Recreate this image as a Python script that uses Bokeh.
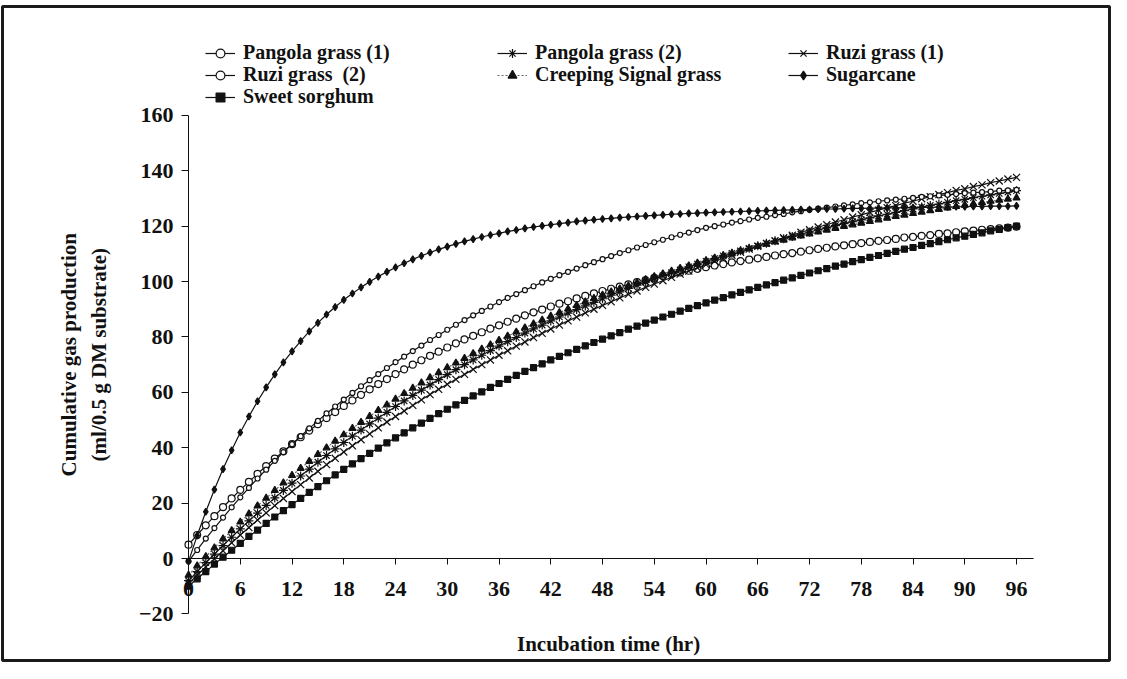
from bokeh.plotting import figure
from bokeh.models import Range1d, FixedTicker, Legend, LegendItem, Label
from bokeh.embed import file_html
from bokeh.resources import INLINE

hours = list(range(97))

pangola1 = [
    5.0, 8.5, 12.0, 15.3, 18.6, 21.7, 24.8, 27.7, 30.6, 33.4,
    36.1, 38.7, 41.3, 43.8, 46.2, 48.5, 50.7, 52.9, 55.1, 57.1,
    59.1, 61.1, 63.0, 64.8, 66.6, 68.3, 70.0, 71.6, 73.2, 74.7,
    76.2, 77.7, 79.1, 80.4, 81.7, 83.0, 84.2, 85.5, 86.6, 87.8,
    88.9, 89.9, 91.0, 92.0, 92.9, 93.9, 94.8, 95.7, 96.6, 97.4,
    98.2, 99.0, 99.8, 100.5, 101.3, 102.0, 102.6, 103.3, 103.9, 104.6,
    105.2, 105.8, 106.3, 106.9, 107.4, 107.9, 108.4, 108.9, 109.4, 109.9,
    110.3, 110.8, 111.3, 111.8, 112.2, 112.7, 113.1, 113.5, 113.9, 114.3,
    114.7, 115.0, 115.4, 115.9, 116.1, 116.5, 116.8, 117.2, 117.4, 117.8,
    118.1, 118.4, 118.7, 118.9, 119.2, 119.5, 119.8,
]
pangola2 = [
    -8.0, -4.7, -1.5, 1.6, 4.7, 7.7, 10.7, 13.6, 16.4, 19.2,
    21.9, 24.6, 27.2, 29.8, 32.3, 34.8, 37.2, 39.6, 41.9, 44.2,
    46.4, 48.6, 50.7, 52.8, 54.9, 56.9, 58.9, 60.8, 62.7, 64.6,
    66.4, 68.2, 70.0, 71.7, 73.4, 75.1, 76.7, 78.3, 79.8, 81.4,
    82.9, 84.3, 85.8, 87.2, 88.6, 89.9, 91.2, 92.5, 93.8, 95.1,
    96.3, 97.5, 98.7, 99.8, 101.0, 102.1, 103.2, 104.2, 105.3, 106.3,
    107.3, 108.3, 109.3, 110.2, 111.1, 112.0, 112.9, 113.8, 114.7, 115.5,
    116.3, 117.1, 117.9, 118.7, 119.4, 120.2, 120.9, 121.6, 122.3, 123.0,
    123.7, 124.3, 125.0, 125.6, 126.2, 126.9, 127.5, 128.0, 128.6, 129.2,
    129.7, 130.3, 130.8, 131.3, 131.8, 132.3, 132.8,
]
ruzi1 = [
    -9.0, -6.0, -3.0, -0.1, 2.8, 5.7, 8.5, 11.2, 13.9, 16.5,
    19.1, 21.7, 24.2, 26.7, 29.1, 31.5, 33.9, 36.2, 38.5, 40.7,
    42.9, 45.0, 47.2, 49.3, 51.3, 53.3, 55.3, 57.3, 59.2, 61.1,
    62.9, 64.7, 66.5, 68.3, 70.0, 71.7, 73.4, 75.0, 76.7, 78.2,
    79.8, 81.3, 82.9, 84.3, 85.8, 87.2, 88.7, 90.0, 91.4, 92.7,
    94.1, 95.4, 96.6, 97.9, 99.1, 100.3, 101.5, 102.7, 103.8, 105.0,
    106.1, 107.3, 108.4, 109.5, 110.6, 111.7, 112.7, 113.8, 114.7, 115.8,
    116.7, 117.8, 118.7, 119.7, 120.5, 121.5, 122.3, 123.3, 124.1, 125.0,
    125.8, 126.7, 127.4, 128.3, 129.0, 129.9, 130.6, 131.4, 132.1, 132.9,
    133.5, 134.3, 134.9, 135.7, 136.3, 137.0, 137.6,
]
ruzi2 = [
    -1.0, 3.1, 7.2, 11.0, 14.8, 18.5, 22.1, 25.5, 28.9, 32.1,
    35.3, 38.4, 41.3, 44.2, 47.0, 49.7, 52.4, 54.9, 57.4, 59.8,
    62.2, 64.4, 66.6, 68.8, 70.9, 72.9, 74.9, 76.9, 78.9, 80.7,
    82.6, 84.4, 86.1, 87.8, 89.4, 91.0, 92.6, 94.1, 95.5, 96.9,
    98.3, 99.7, 101.0, 102.3, 103.5, 104.7, 105.9, 107.0, 108.1, 109.2,
    110.3, 111.3, 112.3, 113.2, 114.2, 115.1, 116.0, 116.9, 117.7, 118.6,
    119.4, 120.0, 120.6, 121.3, 121.8, 122.4, 123.0, 123.4, 124.0, 124.4,
    125.0, 125.4, 125.9, 126.3, 126.7, 127.1, 127.5, 127.9, 128.3, 128.6,
    129.0, 129.3, 129.6, 129.9, 130.2, 130.6, 130.8, 131.1, 131.3, 131.6,
    131.9, 132.1, 132.3, 132.5, 132.8, 132.9, 133.1,
]
creeping_signal = [
    -6.0, -2.6, 0.7, 3.9, 7.1, 10.1, 13.2, 16.1, 19.0, 21.8,
    24.6, 27.3, 30.0, 32.6, 35.1, 37.6, 40.0, 42.4, 44.7, 47.0,
    49.2, 51.3, 53.5, 55.5, 57.6, 59.6, 61.5, 63.4, 65.3, 67.1,
    68.9, 70.6, 72.3, 74.0, 75.6, 77.2, 78.8, 80.3, 81.8, 83.3,
    84.7, 86.1, 87.5, 88.8, 90.1, 91.4, 92.7, 93.9, 95.1, 96.3,
    97.4, 98.5, 99.6, 100.7, 101.8, 102.8, 103.8, 104.8, 105.7, 106.7,
    107.6, 108.5, 109.4, 110.2, 111.1, 111.9, 112.7, 113.5, 114.3, 115.0,
    115.8, 116.5, 117.2, 117.9, 118.6, 119.2, 119.9, 120.5, 121.1, 121.7,
    122.3, 122.9, 123.5, 124.0, 124.6, 125.1, 125.6, 126.1, 126.6, 127.1,
    127.6, 128.1, 128.5, 129.0, 129.4, 129.8, 130.2,
]
sugarcane = [
    -1.0, 8.3, 16.9, 24.9, 32.3, 39.1, 45.5, 51.3, 56.8, 61.8,
    66.5, 70.8, 74.8, 78.5, 82.0, 85.1, 88.1, 90.8, 93.4, 95.7,
    97.9, 99.9, 101.8, 103.5, 105.1, 106.6, 108.0, 109.3, 110.5, 111.6,
    112.6, 113.6, 114.5, 115.3, 116.1, 116.8, 117.4, 118.1, 118.6, 119.2,
    119.7, 120.1, 120.5, 120.9, 121.3, 121.7, 122.0, 122.3, 122.6, 122.8,
    123.1, 123.3, 123.5, 123.7, 123.9, 124.1, 124.3, 124.4, 124.6, 124.7,
    124.9, 125.0, 125.1, 125.2, 125.3, 125.4, 125.5, 125.6, 125.7, 125.8,
    125.9, 126.0, 126.0, 126.1, 126.2, 126.2, 126.3, 126.4, 126.4, 126.5,
    126.5, 126.6, 126.6, 126.7, 126.7, 126.8, 126.8, 126.9, 126.9, 127.0,
    127.0, 127.1, 127.1, 127.2, 127.2, 127.2, 127.3,
]
sweet_sorghum = [
    -10.0, -7.3, -4.7, -2.0, 0.5, 3.0, 5.5, 8.0, 10.3, 12.7,
    15.0, 17.3, 19.5, 21.7, 23.9, 26.0, 28.1, 30.2, 32.2, 34.2,
    36.1, 38.0, 39.9, 41.8, 43.6, 45.4, 47.2, 48.9, 50.6, 52.3,
    53.9, 55.5, 57.1, 58.7, 60.2, 61.8, 63.2, 64.7, 66.1, 67.6,
    68.9, 70.3, 71.7, 73.0, 74.3, 75.5, 76.8, 78.0, 79.2, 80.4,
    81.6, 82.8, 83.9, 85.0, 86.1, 87.2, 88.2, 89.3, 90.3, 91.3,
    92.3, 93.3, 94.2, 95.2, 96.1, 97.0, 97.9, 98.8, 99.6, 100.5,
    101.3, 102.2, 103.1, 103.9, 104.7, 105.6, 106.3, 107.2, 107.9, 108.7,
    109.4, 110.2, 110.9, 111.7, 112.3, 113.1, 113.7, 114.4, 115.1, 115.8,
    116.4, 117.0, 117.6, 118.3, 118.8, 119.5, 120.0,
]

series_names = ["Pangola grass (1)", "Pangola grass (2)", "Ruzi grass (1)",
                "Ruzi grass  (2)", "Creeping Signal grass", "Sugarcane",
                "Sweet sorghum"]
x_ticks = [0, 6, 12, 18, 24, 30, 36, 42, 48, 54, 60, 66, 72, 78, 84, 90, 96]
y_ticks = [-20, 0, 20, 40, 60, 80, 100, 120, 140, 160]
x_title = "Incubation time (hr)"
y_title = "Cumulative gas production\n(ml/0.5 g DM substrate)"

FONT = "Liberation Serif"
INK = "#111111"

# The frame fills the whole canvas; its outline is the chart's box, and both
# axes sit inside it at x = 0 and y = 0.
p = figure(width=1111, height=663,
           x_range=Range1d(-21.57, 106.78), y_range=Range1d(-36.8, 199.3),
           output_backend="svg", toolbar_location=None,
           min_border_left=2, min_border_right=2,
           min_border_top=6, min_border_bottom=3)
p.outline_line_color = "#1a1a1a"
p.outline_line_width = 3
p.grid.visible = False
p.background_fill_color = "white"
p.border_fill_color = "white"

xa = p.xaxis[0]
xa.fixed_location = 0
xa.bounds = (0, 98)
xa.ticker = FixedTicker(ticks=x_ticks)
xa.major_tick_in = 0
xa.major_tick_out = 6
xa.minor_tick_line_color = None
xa.major_label_standoff = 17

ya = p.yaxis[0]
ya.fixed_location = 0
ya.bounds = (-20, 160)
ya.ticker = FixedTicker(ticks=y_ticks)
ya.major_tick_in = 0
ya.major_tick_out = 7
ya.minor_tick_line_color = None
ya.major_label_standoff = 8

for ax in (xa, ya):
    ax.axis_line_color = INK
    ax.major_tick_line_color = INK
    ax.major_label_text_font = FONT
    ax.major_label_text_font_style = "bold"
    ax.major_label_text_font_size = "22px"
    ax.major_label_text_color = INK

title_style = dict(text_font=FONT, text_font_style="bold", text_font_size="21px",
                   text_color=INK, text_align="center", text_baseline="middle")
p.add_layout(Label(x=-12.1, y=73.6, text=y_title, angle=90, angle_units="deg",
                   text_line_height=1.25, **title_style))
p.add_layout(Label(x=48.7, y=-31.0, text=x_title, **title_style))

styles = [
    dict(marker="circle", size=7, fill="white", dash="solid", lc=INK),
    dict(marker="asterisk", size=9, fill=INK, dash="solid", lc=INK),
    dict(marker="x", size=10, fill=INK, dash="solid", lc=INK),
    dict(marker="circle", size=5, fill="white", dash="solid", lc=INK),
    dict(marker="triangle", size=7, fill=INK, dash="2 2", lc="#666666"),
    dict(marker="diamond", size=7, fill=INK, dash="solid", lc=INK),
    dict(marker="square", size=6, fill=INK, dash="solid", lc=INK),
]
data = [pangola1, pangola2, ruzi1, ruzi2, creeping_signal, sugarcane, sweet_sorghum]

items = []
for name, ys, st in zip(series_names, data, styles):
    lr = p.line(hours, ys, line_color=st["lc"], line_width=1.2, line_dash=st["dash"])
    sr = p.scatter(hours, ys, marker=st["marker"], size=st["size"],
                   fill_color=st["fill"], line_color=INK, line_width=1.2)
    items.append(LegendItem(label=name, renderers=[lr, sr]))

# legend positions: (left, bottom) offsets from the frame's bottom-left, pixels
legend_pos = [(203, 596), (495, 596), (786, 596),
              (203, 574), (495, 574), (786, 574),
              (203, 552)]
for item, loc in zip(items, legend_pos):
    leg = Legend(items=[item], location=loc, orientation="vertical")
    leg.padding = 0
    leg.margin = 0
    leg.spacing = 0
    leg.border_line_color = None
    leg.background_fill_alpha = 0
    leg.glyph_width = 30
    leg.glyph_height = 22
    leg.label_height = 22
    leg.label_standoff = 8
    leg.label_text_font = FONT
    leg.label_text_font_style = "bold"
    leg.label_text_font_size = "20px"
    leg.label_text_color = INK
    p.add_layout(leg)

open("out.html", "w").write(file_html(p, INLINE))
